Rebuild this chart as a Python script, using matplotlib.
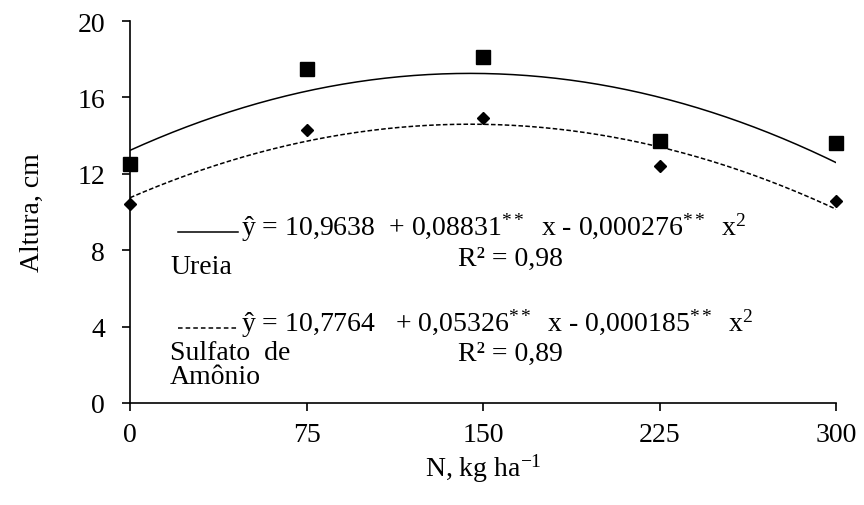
import numpy as np
import matplotlib.pyplot as plt
from matplotlib.lines import Line2D

plt.rcParams['font.family'] = ['Liberation Serif', 'DejaVu Serif']
plt.rcParams['mathtext.fontset'] = 'custom'
plt.rcParams['mathtext.rm'] = 'Liberation Serif'
plt.rcParams['mathtext.it'] = 'Liberation Serif:italic'

# dados
doses = [0, 75, 150, 225, 300]
ureia = [12.5, 17.5, 18.1, 13.7, 13.6]
sulfato = [10.4, 14.3, 14.9, 12.4, 10.6]

eq_ureia = 'ŷ = 10,9638  + 0,08831$^{**}$  x - 0,000276$^{**}$  x$^2$'
eq_sulfato = 'ŷ = 10,7764   + 0,05326$^{**}$  x - 0,000185$^{**}$  x$^2$'
r2_ureia = 'R² = 0,98'
r2_sulfato = 'R² = 0,89'

fs = 20

fig = plt.figure(figsize=(8.64, 5.06), dpi=100)
ax = fig.add_axes([0.1505, 0.2016, 0.8171, 0.7549])

# curvas ajustadas (quadraticas)
xs = np.linspace(0, 300, 200)
cu = np.polyfit(doses, ureia, 2)
cs = np.polyfit(doses, sulfato, 2)
ax.plot(xs, np.polyval(cu, xs), color='black', lw=1.1)
ax.plot(xs, np.polyval(cs, xs), color='black', lw=1.1, ls=(0, (3, 1.5)))

ax.plot(doses, ureia, 's', color='black', ms=10, clip_on=False)
ax.plot(doses, sulfato, 'D', color='black', ms=6, clip_on=False)

ax.set_xlim(0, 300)
ax.set_ylim(0, 20)
ax.set_xticks(doses)
ax.set_yticks(np.arange(0, 21, 4))
for s in ['top', 'right']:
    ax.spines[s].set_visible(False)
for s in ['left', 'bottom']:
    ax.spines[s].set_linewidth(1.2)
ax.tick_params(direction='out', length=6, width=1.2, labelsize=fs)
ax.tick_params(axis='y', pad=12)
ax.tick_params(axis='x', pad=8)

ax.set_ylabel('Altura, cm', fontsize=fs, labelpad=23)
ax.set_xlabel('N, kg ha$^{-1}$', fontsize=fs, labelpad=3)

# equacoes
fig.add_artist(Line2D([178/864, 238/864], [1-233/506, 1-233/506], color='black', lw=1.1))
fig.text(241/864, 1-228/506, eq_ureia, fontsize=fs, va='center')
fig.text(170/864, 1-268/506, 'Ureia', fontsize=fs, va='center')
fig.text(458/864, 1-259/506, r2_ureia, fontsize=fs, va='center')

fig.add_artist(Line2D([178/864, 238/864], [1-329/506, 1-329/506], color='black', lw=1.1,
                      ls=(0, (3, 2))))
fig.text(241/864, 1-324/506, eq_sulfato, fontsize=fs, va='center')
fig.text(170/864, 1-354/506, 'Sulfato  de', fontsize=fs, va='center')
fig.text(170/864, 1-378/506, 'Amônio', fontsize=fs, va='center')
fig.text(458/864, 1-354/506, r2_sulfato, fontsize=fs, va='center')

plt.savefig('out.png', dpi=100)
